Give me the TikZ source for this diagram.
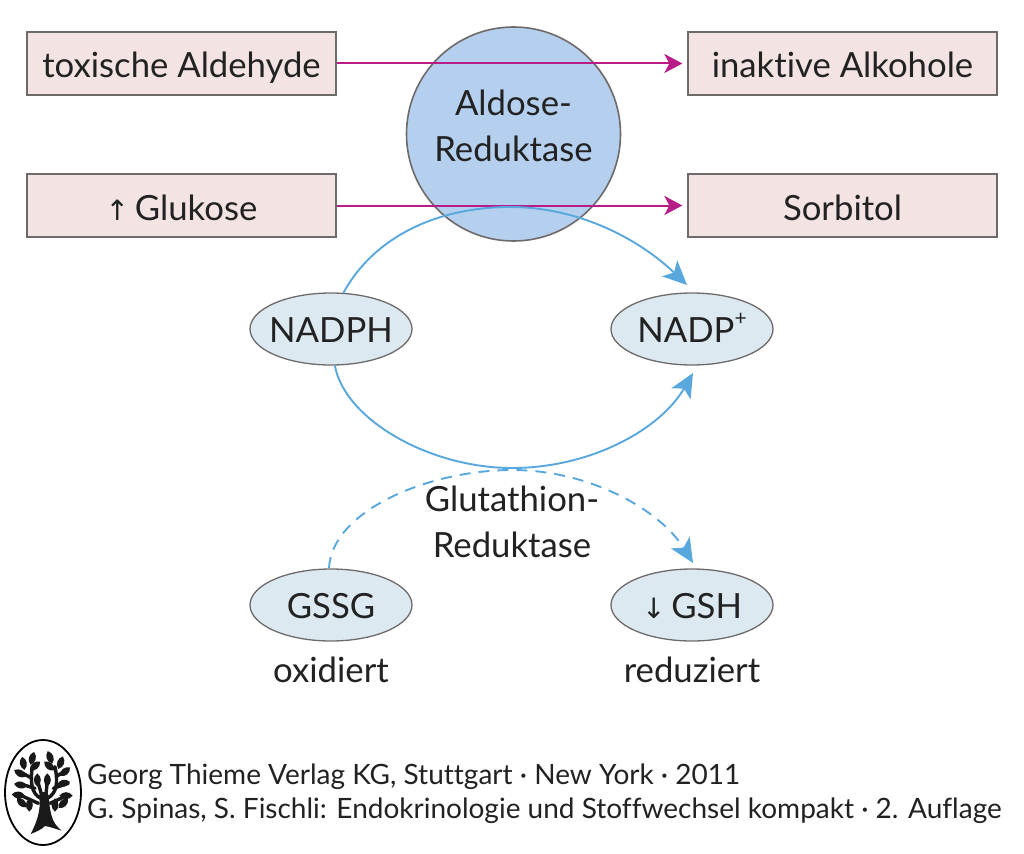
\documentclass[tikz,border=0pt]{standalone}
\usepackage{fontspec}
\setmainfont{Lato}[Ligatures=NoCommon]
\newfontfamily\symf{DejaVu Sans}
\usetikzlibrary{shapes.geometric,arrows.meta}
\definecolor{boxpink}{HTML}{F3E3E3}
\definecolor{boxline}{HTML}{6E6A6A}
\definecolor{circblue}{HTML}{B5CFEE}
\definecolor{ellblue}{HTML}{DCE9F0}
\definecolor{magline}{HTML}{B81C86}
\definecolor{curveblue}{HTML}{58A8DE}
\definecolor{inkc}{HTML}{222222}
\tikzset{
  every node/.style={text=inkc,font=\fontsize{34.7}{46}\selectfont},
  pinkbox/.style={draw=boxline,line width=1.3pt,fill=boxpink,minimum width=309pt,minimum height=63pt,inner sep=0pt,text height=29pt,text depth=0pt},
  cofactor/.style={ellipse,draw=boxline,line width=1.3pt,fill=ellblue,minimum width=162pt,minimum height=72pt,inner sep=0pt,text height=27pt,text depth=0pt},
  enzyme/.style={circle,draw=boxline,line width=1.6pt,fill=circblue,minimum size=214pt,inner sep=0pt,align=center},
  plainlabel/.style={inner sep=0pt,align=center},
  credit/.style={inner sep=0pt,anchor=base west,font=\fontsize{28}{32}\selectfont},
  reaction/.style={draw=magline,line width=2pt,-{Stealth[length=18pt,width=19pt,inset=5pt]}},
  bluecurve/.style={draw=curveblue,line width=1.9pt,-{Stealth[length=24pt,width=22pt,inset=6pt]}},
  bluedash/.style={bluecurve,dash pattern=on 11pt off 8pt},
}
\begin{document}
\begin{tikzpicture}[x=1pt,y=-1pt]
\useasboundingbox (0,0) rectangle (1024,853);
\fill[white] (0,0) rectangle (1024,853);

\node[enzyme] (ar) at (513.5,134) {Aldose-\\Reduktase\rule[-16pt]{0pt}{1pt}};
\node[pinkbox] (tox) at (181.5,63.5) {toxische Aldehyde};
\node[pinkbox] (ina) at (842.5,63.5) {inaktive Alkohole};
\node[pinkbox] (glu) at (181.5,205.5) {{\symf\fontsize{28}{30}\selectfont ↑}\,Glukose};
\node[pinkbox] (sor) at (842.5,205.5) {Sorbitol};

\draw[reaction] (tox.east) -- ([xshift=-5pt]ina.west);
\draw[reaction] (glu.east) -- ([xshift=-5pt]sor.west);

\node[cofactor] (nadph) at (331,329) {\makebox[0pt]{NADPH}};
\node[cofactor] (nadp) at (692,329) {\makebox[0pt]{NADP\raisebox{0.5em}{\fontsize{21}{22}\selectfont +}}};
\node[cofactor] (gssg) at (331,605) {\makebox[0pt]{GSSG}};
\node[cofactor] (gsh) at (692,605) {\makebox[0pt]{{\symf\fontsize{28}{30}\selectfont ↓}\,GSH}};
\node[plainlabel] (ox) at (331,670) {oxidiert};
\node[plainlabel] (red) at (692,670) {reduziert};
\node[plainlabel] (gr) at (512,522) {Glutathion-\\Reduktase};

\coordinate (e1) at (687,285);
\coordinate (e2) at (693,373);
\coordinate (e3) at (693,563);
\coordinate (s3) at (329,568);

\draw[bluecurve] (nadph.71) .. controls (375,235) and (440,207) .. (510,207)
  .. controls (580,207) and (640,240) .. (e1);
\draw[bluecurve] (nadph.276) .. controls (345,420) and (430,468) .. (512,468)
  .. controls (590,468) and (660,430) .. (e2);
\draw[bluedash] (s3) .. controls (332,510) and (430,470) .. (512,470)
  .. controls (590,470) and (660,510) .. (e3);

\node[credit] (c1) at (87,784) {Georg Thieme Verlag KG, Stuttgart · New York · 2011};
\node[credit] (c2) at (87,818) {G. Spinas, S. Fischli: Endokrinologie und Stoffwechsel kompakt · 2. Auflage};

% publisher's tree emblem
\draw[black,line width=1.8pt] (43,792.5) ellipse [x radius=38,y radius=52.5];
\begin{scope}[shift={(0,730)},x=0.3333pt,y=-0.3333pt]
  \fill[black!90] (118,195) .. controls (122,230) and (118,262) .. (92,312)
    .. controls (110,305) and (125,298) .. (135,288) .. controls (150,290) and (170,298) .. (185,302)
    .. controls (165,285) and (150,270) .. (146,195) -- (132,185) -- cycle;
  \draw[black!90,line width=3.4pt,line cap=round]
    (122,205) .. controls (95,190) and (90,160) .. (97,110)
    (142,205) .. controls (170,190) and (175,160) .. (165,110)
    (125,195) -- (112,150) (138,195) -- (142,150)
    (105,175) -- (55,160) (160,175) -- (205,160)
    (115,220) -- (60,195) (150,220) -- (205,195)
    (96,145) -- (60,125) (168,140) -- (200,120);
  \foreach \a/\b/\r in {97/85/75,150/82/110,70/100/100,182/98/70,105/108/40,148/108/140,
      60/130/150,195/125/40,62/165/170,190/160/15,55/195/175,198/197/0,
      112/150/90,142/150/90,65/218/135,190/220/45,88/225/90,165/225/90}{
    \fill[black!90,rotate around={\r:(\a,\b)}] (\a-20,\b) .. controls (\a-9,\b+14) and (\a+9,\b+14) .. (\a+20,\b)
      .. controls (\a+9,\b-14) and (\a-9,\b-14) .. (\a-20,\b) -- cycle;
  }
\end{scope}
\end{tikzpicture}
\end{document}
